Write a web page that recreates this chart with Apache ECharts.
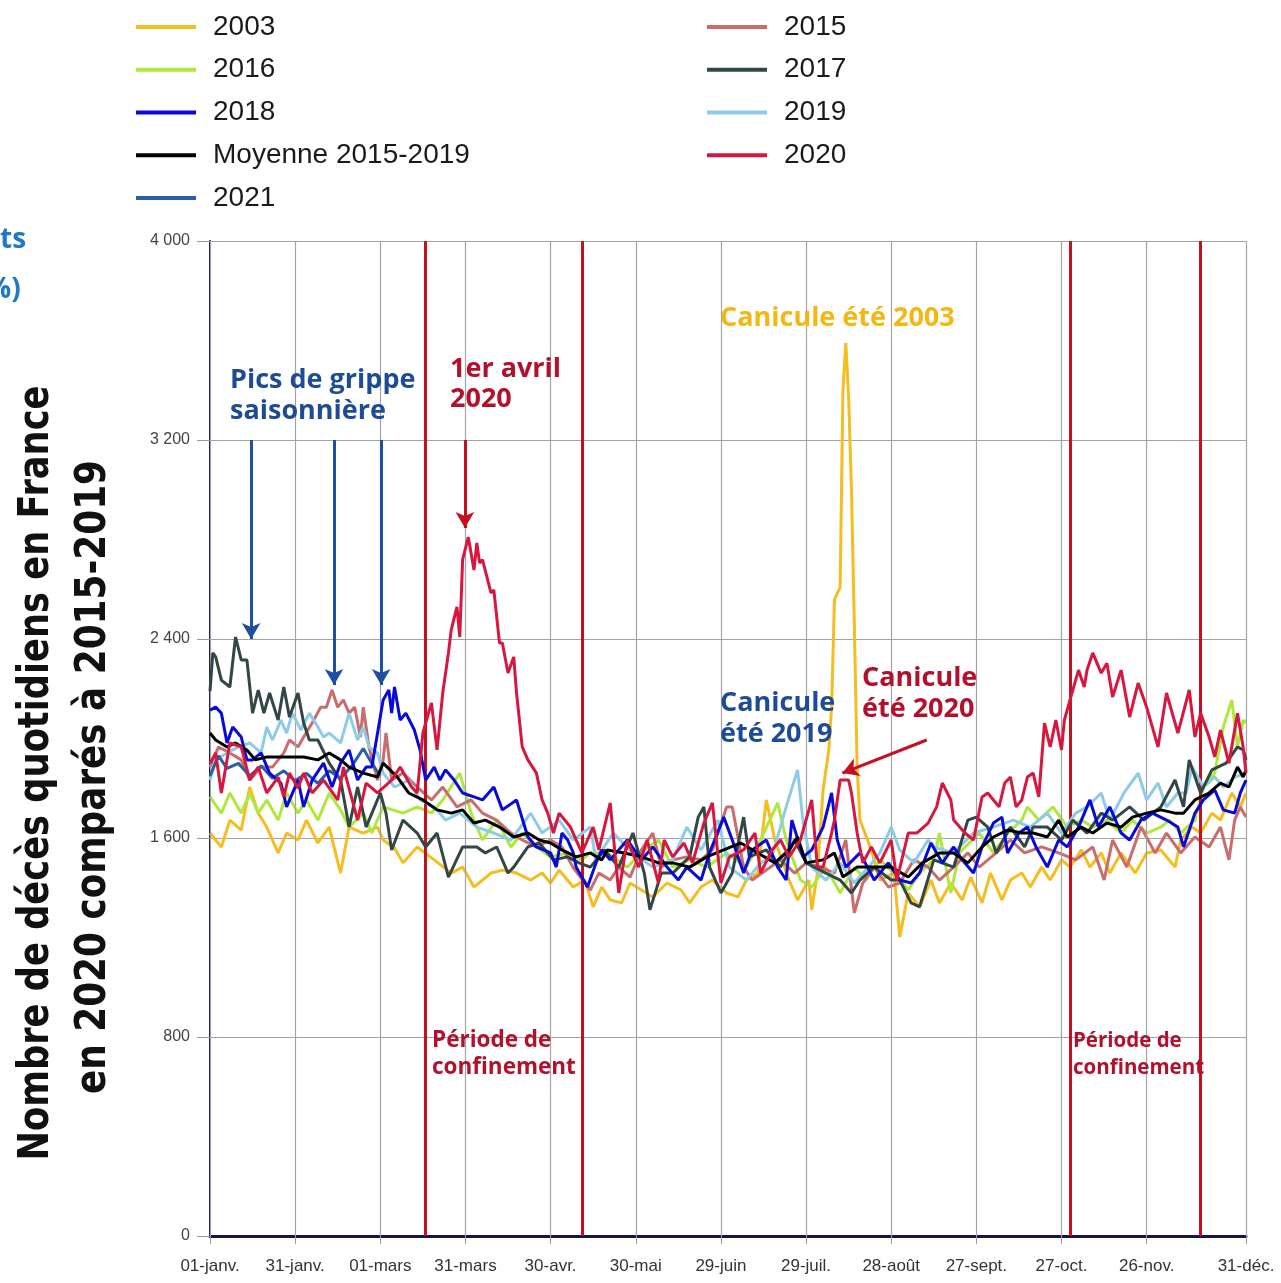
<!DOCTYPE html>
<html><head><meta charset="utf-8">
<script src="https://cdn.jsdelivr.net/npm/echarts@6/dist/echarts.min.js"></script>
<style>html,body{margin:0;padding:0;background:#fff}#c{width:1281px;height:1283px}</style>
</head><body><div id="c"></div>
<script>
// ---- axis ticks ----
const xTickDays = [0,30,60,90,120,150,180,210,240,270,300,330,365];
const xTickLabels = ['01-janv.','31-janv.','01-mars','31-mars','30-avr.','30-mai','29-juin','29-juil.','28-août','27-sept.','27-oct.','26-nov.','31-déc.'];
const yTicks = [0,800,1600,2400,3200,4000];
const confinementDays = [76,131,303,349];

// ---- series: [day of year, daily deaths] ----
const d2003 = [[0,1620],[4,1564],[7,1672],[11,1632],[14,1805],[17,1700],[20,1644],[24,1540],[27,1620],[31,1592],[34,1672],[38,1580],[42,1644],[46,1459],[49,1644],[54,1620],[59,1644],[61,1592],[65,1560],[68,1500],[73,1564],[79,1512],[85,1459],[89,1483],[93,1403],[99,1459],[103,1471],[108,1459],[113,1431],[117,1459],[120,1419],[123,1471],[128,1403],[132,1431],[135,1323],[138,1403],[141,1351],[145,1339],[148,1419],[152,1391],[156,1363],[161,1419],[166,1391],[169,1339],[173,1403],[177,1431],[182,1379],[186,1363],[189,1431],[193,1459],[196,1753],[199,1592],[204,1431],[207,1351],[211,1431],[212,1311],[214,1459],[216,1793],[218,1954],[219,2126],[220,2557],[222,2609],[223,3401],[224,3590],[225,3373],[226,2999],[227,2464],[228,1885],[229,1672],[233,1552],[236,1431],[241,1459],[243,1202],[246,1379],[250,1323],[254,1431],[257,1339],[261,1419],[265,1351],[268,1443],[272,1339],[275,1459],[279,1351],[282,1431],[286,1459],[289,1403],[293,1483],[296,1431],[300,1512],[303,1483],[307,1552],[310,1483],[314,1540],[317,1459],[321,1540],[326,1459],[330,1540],[335,1552],[340,1483],[342,1592],[346,1644],[349,1620],[353,1700],[356,1672],[360,1781],[363,1725],[365,1781]];
const d2015 = [[0,1885],[3,1966],[7,1942],[11,1914],[14,1833],[18,1885],[22,1885],[26,1942],[28,1994],[31,1966],[33,2006],[36,2062],[39,2126],[41,2126],[43,2195],[45,2126],[47,2155],[49,2102],[51,2126],[53,2006],[54,2126],[56,1966],[59,1833],[61,1914],[62,2022],[64,1833],[68,1861],[73,1805],[78,1753],[82,1805],[87,1725],[92,1753],[96,1700],[101,1672],[106,1620],[110,1592],[115,1564],[120,1592],[124,1564],[128,1480],[134,1391],[137,1459],[141,1431],[144,1483],[148,1443],[152,1552],[156,1620],[159,1483],[163,1512],[168,1524],[173,1512],[177,1552],[182,1725],[184,1725],[188,1483],[191,1431],[196,1471],[201,1512],[206,1459],[210,1500],[215,1483],[220,1459],[224,1592],[227,1299],[230,1419],[234,1483],[239,1403],[243,1419],[248,1512],[253,1483],[257,1431],[262,1483],[267,1540],[271,1483],[277,1540],[282,1592],[287,1540],[293,1564],[299,1540],[305,1512],[311,1564],[315,1431],[318,1592],[323,1483],[328,1644],[333,1540],[337,1620],[342,1540],[347,1604],[352,1564],[356,1644],[359,1512],[361,1672],[363,1725],[365,1684]];
const d2016 = [[0,1765],[4,1700],[7,1781],[11,1700],[14,1781],[17,1700],[20,1753],[24,1672],[27,1781],[31,1700],[34,1753],[38,1672],[42,1781],[46,1713],[49,1644],[54,1700],[57,1620],[61,1725],[68,1700],[73,1725],[78,1700],[82,1753],[88,1861],[92,1700],[96,1592],[101,1672],[106,1564],[110,1620],[115,1564],[120,1524],[126,1540],[131,1512],[134,1540],[140,1540],[147,1483],[153,1552],[158,1592],[163,1483],[169,1512],[175,1483],[182,1540],[189,1483],[194,1592],[200,1741],[203,1592],[208,1431],[212,1403],[217,1483],[222,1379],[227,1483],[231,1431],[236,1512],[241,1459],[246,1391],[250,1459],[255,1512],[257,1620],[261,1379],[264,1540],[271,1620],[276,1540],[281,1620],[286,1672],[288,1725],[292,1672],[297,1725],[302,1644],[307,1672],[311,1644],[316,1672],[321,1620],[325,1672],[330,1620],[335,1644],[338,1672],[342,1620],[347,1672],[350,1805],[354,1861],[357,2046],[360,2155],[362,1966],[364,2074],[365,2062]];
const d2017 = [[0,2190],[1,2344],[2,2328],[4,2235],[7,2207],[9,2408],[11,2316],[13,2316],[15,2102],[17,2195],[19,2102],[21,2183],[24,2074],[26,2207],[28,2086],[31,2183],[33,2062],[35,1994],[38,1994],[42,1901],[46,1833],[49,1644],[52,1805],[55,1644],[60,1781],[62,1700],[64,1552],[68,1672],[73,1620],[76,1564],[80,1620],[84,1443],[89,1564],[94,1564],[97,1540],[101,1564],[105,1459],[107,1483],[112,1564],[116,1580],[121,1512],[126,1524],[130,1500],[134,1483],[139,1552],[144,1483],[149,1620],[153,1459],[155,1311],[159,1459],[163,1459],[169,1524],[172,1684],[174,1725],[176,1483],[180,1379],[184,1459],[188,1684],[190,1524],[196,1552],[201,1483],[206,1592],[210,1500],[217,1459],[222,1431],[226,1379],[229,1431],[234,1483],[240,1431],[243,1431],[247,1339],[250,1323],[255,1512],[262,1483],[267,1672],[270,1684],[274,1644],[277,1540],[282,1644],[287,1564],[290,1644],[295,1644],[300,1592],[304,1672],[309,1620],[314,1700],[318,1672],[324,1725],[329,1672],[335,1725],[340,1833],[343,1725],[345,1914],[349,1781],[353,1874],[358,1901],[362,1966],[364,1954],[365,1914]];
const d2018 = [[0,2114],[2,2126],[4,2102],[6,1982],[8,2046],[11,2006],[13,1914],[15,1914],[18,1942],[21,1861],[25,1821],[27,1725],[31,1833],[33,1725],[36,1833],[40,1901],[43,1805],[46,1901],[49,1954],[52,1833],[55,1885],[57,1885],[61,2155],[63,2195],[64,2102],[65,2207],[67,2074],[69,2102],[72,2034],[74,1954],[76,1833],[79,1885],[81,1833],[83,1874],[86,1833],[89,1781],[93,1765],[96,1753],[100,1805],[103,1713],[108,1753],[112,1604],[115,1564],[120,1540],[122,1483],[124,1620],[126,1592],[128,1540],[129,1483],[133,1403],[136,1500],[138,1552],[141,1512],[147,1592],[152,1512],[156,1564],[161,1483],[165,1431],[168,1483],[173,1431],[176,1540],[181,1684],[184,1592],[188,1459],[191,1552],[196,1592],[200,1483],[203,1431],[205,1672],[209,1524],[212,1552],[216,1644],[219,1781],[221,1592],[224,1483],[229,1540],[234,1431],[239,1500],[243,1431],[247,1419],[250,1459],[254,1580],[258,1500],[262,1564],[265,1512],[269,1459],[272,1564],[276,1660],[279,1684],[281,1540],[285,1620],[288,1644],[291,1564],[295,1483],[299,1592],[302,1564],[306,1644],[310,1753],[313,1644],[317,1725],[321,1620],[324,1592],[328,1672],[332,1700],[337,1672],[341,1644],[343,1564],[347,1700],[350,1753],[354,1793],[357,1713],[361,1700],[363,1781],[365,1833]];
const d2019 = [[0,1833],[2,1914],[6,1942],[10,1966],[14,1982],[18,1942],[20,2046],[22,1994],[25,2074],[27,2022],[29,2102],[32,2034],[35,2102],[38,2046],[40,2006],[42,2022],[46,1982],[49,2102],[52,1994],[54,2046],[56,1966],[59,1942],[61,1861],[65,1805],[70,1833],[74,1753],[79,1725],[83,1672],[88,1700],[94,1644],[100,1620],[106,1592],[113,1700],[117,1620],[123,1672],[128,1592],[134,1644],[136,1512],[142,1620],[149,1540],[156,1483],[163,1512],[168,1644],[173,1552],[179,1672],[183,1483],[189,1431],[194,1500],[198,1524],[203,1725],[207,1874],[209,1660],[212,1483],[217,1431],[222,1500],[227,1419],[232,1483],[236,1540],[240,1644],[243,1552],[248,1500],[253,1592],[255,1564],[262,1540],[269,1620],[276,1644],[283,1672],[289,1644],[295,1700],[300,1620],[305,1700],[309,1725],[314,1781],[317,1672],[322,1781],[327,1861],[330,1753],[334,1821],[337,1725],[341,1781],[344,1781],[346,1885],[350,1805],[354,1845],[357,1805],[361,1845],[365,1861]];
const dMoy = [[0,2022],[2,1994],[6,1966],[9,1982],[13,1954],[16,1914],[20,1926],[24,1926],[28,1926],[33,1926],[38,1914],[42,1942],[46,1914],[49,1885],[54,1861],[59,1845],[61,1901],[66,1845],[70,1781],[75,1753],[80,1713],[85,1700],[89,1713],[93,1660],[97,1672],[102,1644],[107,1604],[112,1620],[116,1592],[120,1580],[124,1552],[129,1524],[134,1540],[138,1512],[140,1552],[146,1540],[152,1524],[158,1500],[163,1500],[169,1483],[175,1524],[181,1552],[187,1580],[193,1540],[199,1500],[204,1552],[207,1604],[210,1500],[216,1512],[220,1540],[223,1443],[228,1483],[234,1483],[240,1483],[246,1443],[251,1500],[257,1540],[262,1540],[267,1500],[272,1564],[276,1604],[281,1632],[286,1620],[290,1620],[295,1604],[299,1672],[302,1604],[307,1644],[311,1620],[316,1660],[321,1644],[325,1684],[330,1700],[335,1713],[340,1700],[343,1700],[347,1753],[352,1781],[356,1821],[359,1805],[362,1885],[364,1845],[365,1874]];
const d2020 = [[0,1900],[2,1942],[4,1781],[7,1982],[11,1966],[14,1833],[17,1885],[20,1781],[24,1845],[26,1765],[28,1861],[31,1800],[33,1861],[36,1781],[40,1833],[45,1753],[47,1885],[52,1672],[55,1821],[59,1781],[64,1833],[67,1885],[71,1805],[73,1781],[75,2022],[78,2143],[80,1954],[82,2183],[84,2344],[85,2437],[87,2529],[88,2408],[89,2719],[91,2810],[93,2677],[94,2786],[95,2705],[96,2719],[99,2585],[100,2597],[102,2384],[103,2384],[105,2263],[107,2328],[108,2183],[110,1966],[112,1914],[115,1861],[117,1753],[119,1700],[121,1620],[123,1700],[127,1644],[131,1540],[133,1592],[135,1644],[137,1552],[141,1741],[144,1379],[147,1592],[151,1483],[154,1592],[158,1419],[160,1592],[163,1524],[167,1580],[170,1500],[174,1660],[177,1741],[180,1419],[183,1524],[188,1552],[192,1620],[194,1459],[198,1552],[201,1592],[204,1524],[208,1592],[212,1753],[214,1483],[216,1483],[219,1620],[220,1672],[222,1833],[225,1833],[226,1781],[228,1620],[230,1500],[233,1564],[236,1500],[240,1592],[242,1431],[246,1620],[249,1620],[253,1660],[256,1725],[258,1821],[261,1753],[262,1672],[266,1620],[269,1592],[272,1765],[274,1781],[278,1725],[280,1821],[282,1845],[284,1725],[286,1753],[288,1845],[290,1861],[292,1765],[294,2062],[296,1966],[298,2074],[300,1954],[301,2074],[303,2155],[306,2275],[308,2207],[309,2275],[311,2344],[314,2263],[316,2303],[318,2167],[321,2275],[324,2086],[327,2223],[330,2126],[334,1966],[337,2183],[341,2022],[345,2195],[347,2006],[349,2102],[352,2006],[354,1926],[356,2034],[359,1901],[362,2102],[364,1966],[365,1861]];
const d2021 = [[0,1850],[3,1930],[6,1880],[10,1900],[14,1850],[18,1890],[22,1840],[26,1870],[30,1830],[34,1860],[38,1820],[42,1870],[46,1840],[50,1890],[54,1960],[57,1900],[60,1850]];

// ---- annotation arrows (data coordinates) ----
const fluArrows = [[[14.5,3200],[14.5,2400]],[[43.7,3200],[43.7,2215]],[[60.3,3200],[60.3,2215]]];
const aprilArrow = [[89.8,3200],[89.8,2846]];
const heat2020Arrow = [[252.5,1994],[222.8,1861]];

const BLUE_TXT = '#1e4b96', RED_TXT = '#b3102c', GOLD_TXT = '#f2b713', RED_LINE = '#c4101f';

function mk(name, data, color, z) {
  return {name, type:'line', data, color, z, symbol:'none', showSymbol:false,
    lineStyle:{color, width:3}, emphasis:{disabled:true}, silent:true};
}
const arrowItems = fluArrows.map(a=>[{coord:a[0], lineStyle:{color:'#1e4fa0', width:3, type:'solid'}},{coord:a[1]}])
  .concat([[{coord:aprilArrow[0], lineStyle:{color:RED_LINE, width:3, type:'solid'}},{coord:aprilArrow[1]}]])
  .concat([[{coord:heat2020Arrow[0], lineStyle:{color:RED_LINE, width:3, type:'solid'}},{coord:heat2020Arrow[1]}]]);

const series = [
  mk('2003', d2003, '#f5bd1f', 2),
  mk('2016', d2016, '#aee83a', 3),
  mk('2015', d2015, '#c86c6c', 4),
  mk('2019', d2019, '#8ecbe6', 5),
  mk('2017', d2017, '#324646', 6),
  mk('2021', d2021, '#2a5fa8', 7),
  mk('2018', d2018, '#0a0ad6', 8),
  mk('Moyenne 2015-2019', dMoy, '#000000', 9),
  mk('2020', d2020, '#d6173f', 10),
  {type:'line', data:[], z:1, silent:true,
    markLine:{silent:true, symbol:'none', animation:false, label:{show:false},
      lineStyle:{color:'#a3a3a3', width:1.2, type:'solid'},
      data: xTickDays.map(d=>({xAxis:d}))}},
  {type:'line', data:[], z:11, silent:true,
    markLine:{silent:true, symbol:'none', animation:false, label:{show:false},
      lineStyle:{color:RED_LINE, width:3, type:'solid'},
      data: confinementDays.map(d=>({xAxis:d}))}},
  {type:'line', data:[], z:12, silent:true,
    markLine:{silent:true, symbol:['none','arrow'], symbolSize:[14,16], animation:false, label:{show:false},
      data: arrowItems}}
];

function txt(text, x, y, fill, size, extra) {
  return Object.assign({type:'text', x, y, silent:true, z:100,
    style:{text, fill, font:'bold '+size+'px "Open Sans"', textVerticalAlign:'middle'}}, extra||{});
}
// condensed vertical title: measure the text and squeeze it along its own direction
const TITLE_FONT = 'bold 42px "DejaVu Sans"';
const measureCtx = document.createElement('canvas').getContext('2d');
function fitScale(text, target) { measureCtx.font = TITLE_FONT; return target / measureCtx.measureText(text).width; }
const title1 = 'Nombre de décès quotidiens en France';
const title2 = 'en 2020 comparés à 2015-2019';

const legendText = {fontFamily:'"Liberation Sans", sans-serif', fontSize:28, color:'#1a1a1a', lineHeight:30, padding:[0,0,0,12]};
const option = {
  animation:false,
  backgroundColor:'#ffffff',
  legend:[
    {orient:'vertical', left:136, top:12, padding:0, icon:'rect', itemWidth:60, itemHeight:4, itemGap:12.75,
     textStyle:legendText, data:['2003','2016','2018','Moyenne 2015-2019','2021'], selectedMode:false},
    {orient:'vertical', left:707, top:12, padding:0, icon:'rect', itemWidth:60, itemHeight:4, itemGap:12.75,
     textStyle:legendText, data:['2015','2017','2019','2020'], selectedMode:false}
  ],
  grid:{left:210, right:35, top:241, bottom:47, containLabel:false},
  xAxis:{type:'value', min:0, max:365,
    axisLine:{show:true, onZero:false, lineStyle:{color:'#15154a', width:3}},
    axisTick:{show:true, customValues:xTickDays, length:8, lineStyle:{color:'#9a9a9a'}},
    axisLabel:{customValues:xTickDays, margin:22, color:'#333', fontSize:17,
      fontFamily:'"Liberation Sans", sans-serif',
      formatter:v=>xTickLabels[xTickDays.indexOf(v)] || ''},
    splitLine:{show:false}},
  yAxis:{type:'value', min:0, max:4000, interval:800,
    axisLine:{show:true, lineStyle:{color:'#15154a', width:2}},
    axisTick:{show:true, length:13, lineStyle:{color:'#9a9a9a'}},
    axisLabel:{margin:20, color:'#444', fontSize:16, fontFamily:'"Liberation Sans", sans-serif',
      formatter:v=> v>=1000 ? Math.floor(v/1000)+' '+String(v%1000).padStart(3,'0') : String(v)},
    splitLine:{show:true, lineStyle:{color:'#a3a3a3', width:1.2}}},
  series,
  graphic:[
    txt('ts', 0, 240, '#1f78c8', 28),
    txt('%)', -14, 290, '#1f78c8', 28),
    {type:'text', x:37, y:773, rotation:Math.PI/2, scaleX:fitScale(title1, 775), silent:true,
      style:{text:title1, fill:'#111', font:TITLE_FONT, textAlign:'center', textVerticalAlign:'middle'}},
    {type:'text', x:94, y:777, rotation:Math.PI/2, scaleX:fitScale(title2, 634), silent:true,
      style:{text:title2, fill:'#111', font:TITLE_FONT, textAlign:'center', textVerticalAlign:'middle'}},
    txt('Pics de grippe', 230, 380, BLUE_TXT, 27),
    txt('saisonnière', 230, 411, BLUE_TXT, 27),
    txt('1er avril', 450, 369, RED_TXT, 27),
    txt('2020', 450, 399, RED_TXT, 27),
    txt('Canicule été 2003', 720, 318, GOLD_TXT, 27),
    txt('Canicule', 720, 703, BLUE_TXT, 27),
    txt('été 2019', 720, 734, BLUE_TXT, 27),
    txt('Canicule', 862, 678, RED_TXT, 27),
    txt('été 2020', 862, 709, RED_TXT, 27),
    txt('Période de', 432, 1041, RED_TXT, 22.5),
    txt('confinement', 432, 1068, RED_TXT, 22.5),
    txt('Période de', 1073, 1041, RED_TXT, 20.5),
    txt('confinement', 1073, 1068, RED_TXT, 20.5)
  ]
};
const chart = echarts.init(document.getElementById('c'), null, {renderer:'canvas'});
chart.setOption(option);
</script></body></html>
